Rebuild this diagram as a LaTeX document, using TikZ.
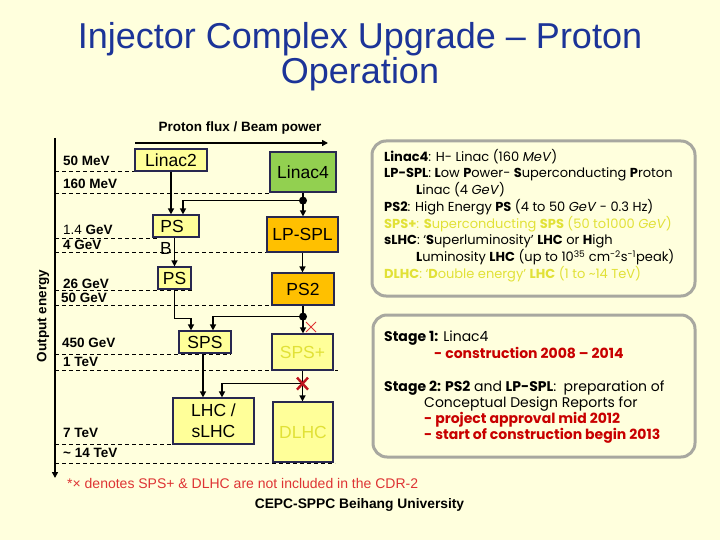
\documentclass[tikz,border=0pt]{standalone}
\usepackage{fontspec}
\setmainfont{Liberation Sans}
\newfontfamily\comicfont{Poppins}
\usetikzlibrary{arrows.meta,calc}
\definecolor{bg}{RGB}{255,255,221}
\definecolor{titleblue}{RGB}{28,52,152}
\definecolor{boxyel}{RGB}{255,255,153}
\definecolor{boxgreen}{RGB}{146,208,80}
\definecolor{boxorange}{RGB}{255,192,0}
\definecolor{faintyel}{RGB}{225,225,55}
\definecolor{framegray}{RGB}{168,168,160}
\definecolor{notered}{RGB}{222,52,52}
\definecolor{stagered}{RGB}{200,0,0}
\definecolor{crossred}{RGB}{190,20,30}
\definecolor{boxline}{RGB}{40,40,80}
\tikzset{
  blk/.style={draw=boxline, line width=1.2pt, inner sep=0pt, align=center,
    font=\fontsize{17.5}{21}\selectfont},
  yelbox/.style={blk, fill=boxyel},
  grnbox/.style={blk, fill=boxgreen},
  orgbox/.style={blk, fill=boxorange},
  arr/.style={line width=1.6pt, -{Triangle[length=6pt,width=6pt]}},
  guide/.style={line width=0.9pt, dash pattern=on 4pt off 3pt},
  elabel/.style={anchor=west, inner sep=0pt, font=\fontsize{13.5}{14}\selectfont\bfseries},
  dot/.style={circle, fill=black, inner sep=0pt, minimum size=8pt},
  infobox/.style={draw=framegray, line width=3pt, rounded corners=14pt},
  info/.style={anchor=west, inner sep=0pt, font=\comicfont\fontsize{13}{15}\selectfont},
  stage/.style={anchor=west, inner sep=0pt, font=\comicfont\fontsize{14}{16}\selectfont},
  stagebold/.style={stage, text=stagered, font=\comicfont\fontsize{14}{16}\selectfont\bfseries},
}
\begin{document}
\begin{tikzpicture}[x=1pt,y=-1pt]
\fill[bg] (0,0) rectangle (720,540);
\useasboundingbox (0,0) rectangle (720,540);

% title
\node[font=\fontsize{36}{35}\selectfont, text=titleblue, align=center] (title) at (360,57)
  {Injector Complex Upgrade – Proton\\Operation};

% header arrow
\node[font=\fontsize{13.5}{14}\selectfont\bfseries] (flux) at (240,128) {Proton flux / Beam power};
\coordinate (fluxa) at (135,143);
\coordinate (fluxb) at (328,143);
\draw[arr] (fluxa) -- (fluxb);

% energy axis
\coordinate (axtop) at (55,138);
\coordinate (axbot) at (55,478);
\draw[arr] (axtop) -- (axbot);
\node[rotate=90, font=\fontsize{13.5}{14}\selectfont\bfseries] (outen) at (43,316) {Output energy};

% guide lines
\draw[guide] (55,171) -- (135,171);
\draw[guide] (55,193) -- (270,193);
\draw[guide] (55,238) -- (158,238);
\draw[guide] (55,252) -- (267,252);
\draw[guide] (55,290) -- (192,290);
\draw[guide] (55,305) -- (272,305);
\draw[guide] (55,354) -- (231,354);
\draw[guide] (55,370) -- (338,370);
\draw[guide] (55,444) -- (173,444);
\draw[guide] (55,463) -- (335,463);

% energy labels
\node[elabel] (e1) at (63,161) {50 MeV};
\node[elabel] (e2) at (63,184) {160 MeV};
\node[elabel] (e3) at (63,230) {\mdseries 1.4 \bfseries GeV};
\node[elabel] (e4) at (63,245) {4 GeV};
\node[elabel] (e5) at (63,284) {26 GeV};
\node[elabel] (e6) at (61,298) {50 GeV};
\node[elabel] (e7) at (62,343) {450 GeV};
\node[elabel] (e8) at (63,362) {1 TeV};
\node[elabel] (e9) at (63,433) {7 TeV};
\node[elabel] (e10) at (63,453) {\textasciitilde{} 14 TeV};

% machines
\node[yelbox, minimum width=72pt, minimum height=22pt] (linac2) at (171,160) {Linac2};
\node[grnbox, minimum width=66pt, minimum height=40pt] (linac4) at (303,172) {Linac4};
\node[yelbox, minimum width=46pt, minimum height=22pt] (psb) at (176,226) {\hspace*{-8pt}PS};
\node[inner sep=0pt, font=\fontsize{17.5}{21}\selectfont] (psbB) at (166,248) {B};
\node[yelbox, minimum width=33pt, minimum height=22pt] (ps) at (174.5,278) {PS};
\node[orgbox, minimum width=71pt, minimum height=35pt] (lpspl) at (302.5,234.5) {LP-SPL};
\node[orgbox, minimum width=62pt, minimum height=32pt] (ps2) at (303,289) {PS2};
\node[yelbox, minimum width=52pt, minimum height=22pt] (sps) at (205,342) {SPS};
\node[yelbox, minimum width=61pt, minimum height=36pt, text=faintyel] (spsplus) at (302.5,352) {SPS+};
\node[yelbox, minimum width=81pt, minimum height=46pt] (lhc) at (213.5,421) {LHC /\\sLHC};
\node[yelbox, minimum width=60pt, minimum height=60pt, text=faintyel] (dlhc) at (303,432) {DLHC};

% connectors
\draw[arr] (linac2.south) -- (linac2.south |- psb.north);
\coordinate (j1) at ($(linac4.south)+(0,8)$);
\draw[arr] (linac4.south) -- (linac4.south |- lpspl.north);
\draw[arr] (j1) -| ($(psb.north)+(7,0)$);
\node[dot] (d1) at (j1) {};
\draw[arr] (ps.north |- psb.south) -- (ps.north);
\draw[arr] (lpspl.south) -- (lpspl.south |- ps2.north);
\draw[arr] (ps.south) -- ++(0,29) -| ($(sps.north)+(-14,0)$);
\coordinate (j2) at ($(ps2.south)+(0,11)$);
\draw[arr] (ps2.south) -- (ps2.south |- spsplus.north);
\draw[arr] (j2) -| ($(sps.north)+(8,0)$);
\node[dot] (d2) at (j2) {};
\draw[arr] ($(sps.south)+(-2,0)$) -- ($(sps.south |- lhc.north)+(-2,0)$);
\coordinate (j3) at ($(spsplus.south)+(0,13)$);
\draw[arr] (spsplus.south) -- (spsplus.south |- dlhc.north);
\draw[arr] (j3) -| ($(lhc.north)+(8.5,0)$);

% crosses
\coordinate (x1) at (311,327);
\draw[notered, line width=1pt] ($(x1)+(-5,-5)$) -- ($(x1)+(5,5)$) ($(x1)+(-5,5)$) -- ($(x1)+(5,-5)$);
\draw[crossred, line width=2.4pt] ($(j3)+(-5.5,-6)$) -- ($(j3)+(5.5,6)$) ($(j3)+(-5.5,6)$) -- ($(j3)+(5.5,-6)$);

% info box 1
\draw[infobox] (372,141) rectangle (695,296);
\node[info] (i1) at (384,157) {\textbf{Linac4}: H- Linac (160 \textit{MeV})};
\node[info] (i2) at (384,174) {\textbf{LP-SPL}: \textbf{L}ow \textbf{P}ower- \textbf{S}uperconducting \textbf{P}roton};
\node[info] (i3) at (416,190) {\textbf{L}inac (4 \textit{GeV})};
\node[info] (i4) at (384,207) {\textbf{PS2}: High Energy \textbf{PS} (4 to 50 \textit{GeV} - 0.3 Hz)};
\node[info, text=faintyel] (i5) at (384,224) {\textbf{SPS+}: \textbf{S}uperconducting \textbf{SPS} (50 to1000 \textit{GeV})};
\node[info] (i6) at (384,241) {\textbf{sLHC}: ‘\textbf{S}uperluminosity’ \textbf{LHC} or \textbf{H}igh};
\node[info] (i7) at (416,257) {\textbf{L}uminosity \textbf{LHC} (up to 10\textsuperscript{35} cm\textsuperscript{-2}s\textsuperscript{-1}peak)};
\node[info, text=faintyel] (i8) at (384,274) {\textbf{DLHC}: ‘\textbf{D}ouble energy’ \textbf{LHC} (1 to \textasciitilde14 TeV)};

% info box 2
\draw[infobox] (373,315) rectangle (695,457);
\node[stage] (s1) at (384,338) {\textbf{Stage 1:} Linac4};
\node[stagebold] (s2) at (434,353) {- construction 2008 – 2014};
\node[stage] (s3) at (384,388) {\textbf{Stage 2: PS2} and \textbf{LP-SPL}:\ \ preparation of};
\node[stage] (s4) at (424,404) {Conceptual Design Reports for};
\node[stagebold] (s5) at (424,420) {- project approval mid 2012};
\node[stagebold] (s6) at (424,436) {- start of construction begin 2013};

% footnotes
\begin{scope}
\clip (60,470) rectangle (418,497);
\node[anchor=west, inner sep=0pt, text=notered, font=\fontsize{14}{16}\selectfont] (fn) at (67,483)
  {*× denotes SPS+ \& DLHC are not included in the CDR-2};
\end{scope}
\node[font=\fontsize{13.8}{16}\selectfont\bfseries] (cepc) at (359.5,505) {CEPC-SPPC Beihang University};
\end{tikzpicture}
\end{document}
